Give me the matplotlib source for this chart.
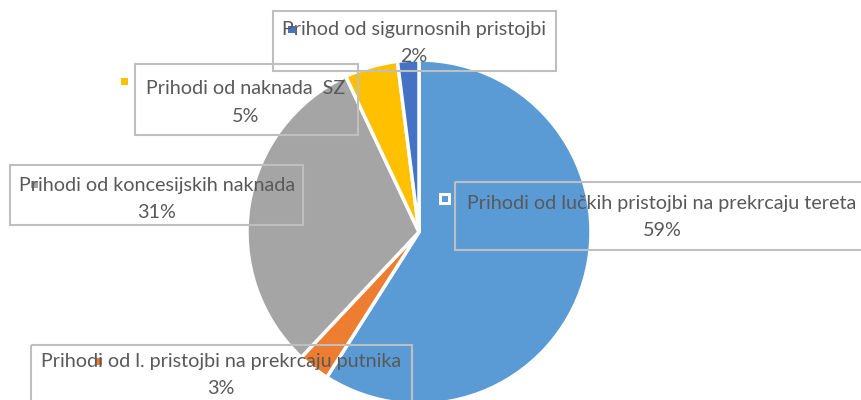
import matplotlib
matplotlib.use("Agg")
import matplotlib.pyplot as plt
from matplotlib.patches import Rectangle

labels = ["Prihodi od lučkih pristojbi na prekrcaju tereta",
          "Prihodi od l. pristojbi na prekrcaju putnika",
          "Prihodi od koncesijskih naknada",
          "Prihodi od naknada  SZ",
          "Prihod od sigurnosnih pristojbi"]
values = [59, 3, 31, 5, 2]
colors = ["#5B9BD5", "#ED7D31", "#A5A5A5", "#FFC000", "#4472C4"]

W, H = 862, 400
fig = plt.figure(figsize=(W / 100, H / 100), dpi=100)
fig.patch.set_facecolor("white")

cx, cy, r = 419, 232, 172
ax = fig.add_axes([(cx - r) / W, (H - cy - r) / H, 2 * r / W, 2 * r / H])
ax.pie(values, colors=colors, startangle=90, counterclock=False, radius=1.0,
       wedgeprops=dict(edgecolor="white", linewidth=2.5))
ax.set_xlim(-1, 1)
ax.set_ylim(-1, 1)
ax.set_aspect("auto")
ax.axis("off")

ov = fig.add_axes([0, 0, 1, 1], zorder=5)
ov.set_xlim(0, W)
ov.set_ylim(H, 0)
ov.axis("off")
ov.patch.set_alpha(0)

# (box x0, y0, x1, y1), text center x, line1 y, line2 y, marker (x, y)
layout = [
    ((455, 182, 875, 250), 662, 204, 231, (445, 199)),
    ((31, 345, 412, 410), 221, 362, 388, (99, 361)),
    ((10, 165, 303, 225), 157, 185, 213, (35, 184)),
    ((135, 64, 358, 135), 246, 89, 116, (125, 81)),
    ((273, 11, 556, 71), 414, 29, 57, (292, 29)),
]
total = sum(values)
fs = 14.2
for lab, v, c, (box, tx, y1, y2, (mx, my)) in zip(labels, values, colors, layout):
    x0, y0, x1, y1b = box
    ov.add_patch(Rectangle((x0, y0), x1 - x0, y1b - y0, fill=False,
                           edgecolor="#BFBFBF", linewidth=1.5, zorder=2))
    ov.text(tx, y1, lab, ha="center", va="center", fontsize=fs,
            color="#595959", family="Lato", zorder=4)
    ov.text(tx, y2, f"{round(v / total * 100)}%", ha="center", va="center",
            fontsize=fs, color="#595959", family="Lato", zorder=4)
    if c == "#5B9BD5":
        ov.add_patch(Rectangle((mx - 6, my - 6), 12, 12, facecolor="white",
                               edgecolor="none", zorder=3))
        ov.add_patch(Rectangle((mx - 3, my - 3), 6, 6, facecolor=c,
                               edgecolor="none", zorder=3))
    else:
        ov.add_patch(Rectangle((mx - 3.5, my - 3.5), 7, 7, facecolor=c,
                               edgecolor="none", zorder=3))

fig.savefig("out.png", dpi=100)
